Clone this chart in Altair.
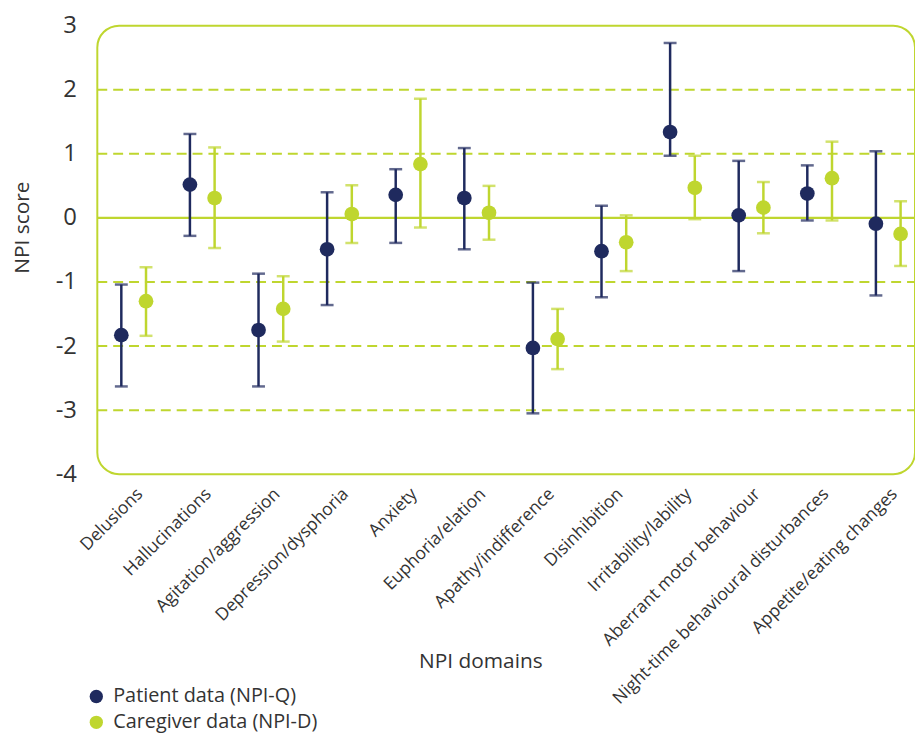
import json
import altair as alt
import pandas as pd

categories = [
    "Delusions", "Hallucinations", "Agitation/aggression", "Depression/dysphoria",
    "Anxiety", "Euphoria/elation", "Apathy/indifference", "Disinhibition",
    "Irritability/lability", "Aberrant motor behaviour",
    "Night-time behavioural disturbances", "Appetite/eating changes",
]
patient_mean = [-1.83, 0.52, -1.75, -0.49, 0.36, 0.31, -2.03, -0.52, 1.34, 0.04, 0.38, -0.09]
patient_low = [-2.63, -0.28, -2.63, -1.36, -0.39, -0.49, -3.05, -1.24, 0.97, -0.83, -0.04, -1.21]
patient_high = [-1.04, 1.31, -0.87, 0.40, 0.76, 1.09, -1.01, 0.19, 2.73, 0.89, 0.82, 1.04]
care_mean = [-1.30, 0.31, -1.42, 0.06, 0.84, 0.08, -1.89, -0.38, 0.47, 0.16, 0.62, -0.25]
care_low = [-1.84, -0.47, -1.93, -0.39, -0.15, -0.34, -2.36, -0.83, -0.02, -0.24, -0.04, -0.75]
care_high = [-0.77, 1.10, -0.91, 0.51, 1.86, 0.50, -1.42, 0.04, 0.97, 0.56, 1.19, 0.26]

series_names = ["Patient data (NPI-Q)", "Caregiver data (NPI-D)"]
series_colors = ["#1f2a5e", "#bfd62f"]
series_shift = [-0.18, 0.18]
dashed_grid = [-3, -2, -1, 1, 2]
zero_line = [0]
y_ticks = [-4, -3, -2, -1, 0, 1, 2, 3]

LIME = "#bfd62f"
TEXT = "#333333"
FONT = "Open Sans"

rows = []
for s, (m, lo, hi) in enumerate([(patient_mean, patient_low, patient_high),
                                 (care_mean, care_low, care_high)]):
    for i, c in enumerate(categories):
        rows.append({"series": series_names[s], "idx": i, "shift": series_shift[s],
                     "mean": m[i], "low": lo[i], "high": hi[i]})
df = pd.DataFrame(rows)

W, H = 824, 452
xscale = alt.Scale(domain=[-0.53, 11.39], nice=False, zero=False)
yscale = alt.Scale(domain=[-4, 3], nice=False, zero=False)
cscale = alt.Scale(domain=series_names, range=series_colors)

label_expr = json.dumps(categories) + "[datum.value]"

legend_kw = dict(orient="none", legendX=-11, legendY=666, title=None,
                 symbolType="circle", symbolSize=180, symbolStrokeWidth=0,
                 labelFontSize=20, labelFont=FONT, labelColor=TEXT, labelOffset=7,
                 rowPadding=6, symbolOpacity=1, labelLimit=0)


def color_enc():
    return alt.Color("series:N", scale=cscale, legend=alt.Legend(**legend_kw))


base = alt.Chart(df).transform_calculate(xpos="datum.idx + datum.shift")

x_enc = alt.X("xpos:Q", scale=xscale,
              axis=alt.Axis(values=list(range(len(categories))), labelExpr=label_expr,
                            labelAngle=-45, labelAlign="right", labelBaseline="middle",
                            labelPadding=17, labelOffset=6, ticks=False, tickSize=0,
                            domain=False, grid=False, labelFontSize=17.6, labelColor=TEXT,
                            labelFont=FONT, labelLimit=0, title="NPI domains",
                            titleFont=FONT, titleFontSize=21, titleFontWeight="normal",
                            titleColor=TEXT, titleX=386, titleY=189, titleAlign="center",
                            titleBaseline="middle", labelOverlap=False, labelBound=False))
y_axis = alt.Axis(values=y_ticks, labelExpr="'' + datum.value", ticks=False, tickSize=0,
                  domain=False, grid=False, labelFontSize=24, labelColor=TEXT,
                  labelFont=FONT, labelPadding=21, title="NPI score", titleFont=FONT,
                  titleFontSize=21, titleFontWeight="normal", titleColor=TEXT,
                  titleAngle=-90, titleX=-75, titleY=203, titleAlign="center",
                  titleBaseline="middle")

grid_df = pd.DataFrame({"v": dashed_grid})
zero_df = pd.DataFrame({"v": zero_line})

grid = alt.Chart(grid_df).mark_rule(color=LIME, strokeWidth=2, strokeDash=[10, 6]).encode(
    y=alt.Y("v:Q", scale=yscale, axis=y_axis), x=alt.value(0), x2=alt.value(W))
zero = alt.Chart(zero_df).mark_rule(color=LIME, strokeWidth=2.2).encode(
    y=alt.Y("v:Q", scale=yscale), x=alt.value(0), x2=alt.value(W))

bars = base.mark_rule(strokeWidth=2.5).encode(
    x=x_enc,
    y=alt.Y("low:Q", scale=yscale),
    y2="high:Q",
    color=color_enc())
cap_lo = base.mark_tick(thickness=2.5, size=13, orient="horizontal").encode(
    x=alt.X("xpos:Q", scale=xscale),
    y=alt.Y("low:Q", scale=yscale),
    color=color_enc())
cap_hi = base.mark_tick(thickness=2.5, size=13, orient="horizontal").encode(
    x=alt.X("xpos:Q", scale=xscale),
    y=alt.Y("high:Q", scale=yscale),
    color=color_enc())
pts = base.mark_point(filled=True, opacity=1, size=220, shape="circle").encode(
    x=alt.X("xpos:Q", scale=xscale),
    y=alt.Y("mean:Q", scale=yscale),
    color=color_enc())

chart = alt.layer(grid, zero, bars, cap_lo, cap_hi, pts).properties(
    width=W, height=H,
    autosize=alt.AutoSizeParams(type="none"),
    padding={"left": 90, "top": 15, "right": 0, "bottom": 262},
    background="white",
).configure_view(stroke=LIME, strokeWidth=2, cornerRadius=22)

chart.save("out.html", embed_options={"renderer": "svg", "actions": False})
